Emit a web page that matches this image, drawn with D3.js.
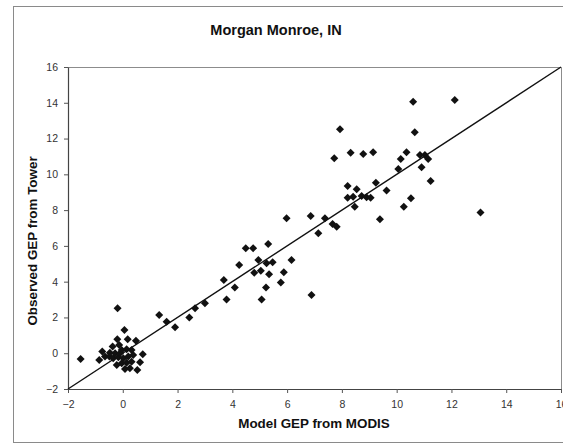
<!DOCTYPE html>
<html>
<head>
<meta charset="utf-8">
<script src="https://cdn.jsdelivr.net/npm/d3@7/dist/d3.min.js"></script>
<style>
  html, body { margin: 0; padding: 0; background: #fff; }
  svg { display: block; font-family: Arial, "Liberation Sans", sans-serif; }
</style>
</head>
<body>
<svg id="chart" width="563" height="444"></svg>
<script>
// Model GEP from MODIS (x) vs observed GEP from the flux tower (y)
const modelGEP = [
  -1.54, -0.86, -0.75, -0.65, -0.49, -0.47, -0.37, -0.35, -0.28, -0.22, -0.20, -0.19,
  -0.16, -0.13, -0.10, -0.04, -0.04, 0.02, 0.06, 0.08, 0.14, 0.14, 0.18, 0.20, 0.26,
  0.32, 0.32, 0.38, 0.48, 0.53, 0.63, 0.73,
  1.33, 1.60, 1.91, 2.43, 2.64, 3.00, 3.69, 3.79, 4.09, 4.25, 4.49, 4.76, 4.80, 4.95,
  5.04, 5.07, 5.23, 5.25, 5.31, 5.34, 5.47, 5.77, 5.88, 6.16, 6.89,
  5.98, 6.86, 7.14, 7.38, 7.66, 7.81, 7.72, 7.93, 8.21, 8.21, 8.32, 8.41, 8.47, 8.54,
  8.72, 8.78, 8.90, 9.05, 9.14, 9.24, 9.39, 9.63, 10.06, 10.15, 10.26, 10.36, 10.52,
  10.60, 10.66, 10.85, 10.91, 11.03, 11.15, 11.24, 12.12, 13.06
];
const towerGEP = [
  -0.32, -0.38, 0.09, -0.19, -0.19, 0.03, 0.37, -0.28, 0.00, -0.66, 0.78, 2.51,
  -0.23, 0.46, 0.00, 0.18, -0.56, -0.28, 1.30, -0.88, 0.22, -0.53, 0.78, -0.19, -0.84,
  0.18, -0.47, -0.10, 0.70, -0.94, -0.51, -0.06,
  2.14, 1.76, 1.45, 1.99, 2.51, 2.79, 4.09, 3.01, 3.68, 4.93, 5.87, 5.87, 4.50, 5.21,
  4.61, 3.01, 3.68, 5.03, 6.11, 4.41, 5.08, 3.96, 4.52, 5.21, 3.26,
  7.54, 7.67, 6.70, 7.54, 7.22, 7.07, 10.90, 12.52, 9.35, 8.69, 11.21, 8.75, 8.19, 9.16,
  8.79, 11.14, 8.72, 8.69, 11.23, 9.53, 7.49, 9.09, 10.30, 10.86, 8.19, 11.23, 8.66,
  14.06, 12.35, 11.08, 10.39, 11.08, 10.86, 9.63, 14.16, 7.86
];
const axisTicks = [-2, 0, 2, 4, 6, 8, 10, 12, 14, 16];
const axisDomain = [-2, 16];
const oneToOne = [-2, 16];

const titleText = "Morgan Monroe, IN";
const xTitle = "Model GEP from MODIS";
const yTitle = "Observed GEP from Tower";

const svg = d3.select("#chart");
const W = 563, H = 444;
const plot = { left: 68, right: 561, top: 67, bottom: 389 };

// outer chart frame
svg.append("rect")
  .attr("x", 13.5).attr("y", 6.5)
  .attr("width", W + 10).attr("height", 436)
  .attr("fill", "#fff").attr("stroke", "#8a8a8a").attr("stroke-width", 1);

const x = d3.scaleLinear().domain(axisDomain).range([plot.left, plot.right]);
const y = d3.scaleLinear().domain(axisDomain).range([plot.bottom, plot.top]);

// plot-area border (top and right)
svg.append("path")
  .attr("d", `M${plot.left},${plot.top + 0.5}H${plot.right + 0.5}V${plot.bottom}`)
  .attr("fill", "none").attr("stroke", "#8c8c8c").attr("stroke-width", 1);

// axes
const xAxis = d3.axisBottom(x).tickValues(axisTicks).tickSize(4).tickSizeOuter(0).tickPadding(8);
const yAxis = d3.axisLeft(y).tickValues(axisTicks).tickSize(4).tickSizeOuter(0).tickPadding(6);

const gx = svg.append("g").attr("transform", `translate(0,${plot.bottom})`).call(xAxis);
const gy = svg.append("g").attr("transform", `translate(${plot.left},0)`).call(yAxis);

[gx, gy].forEach(g => {
  g.select(".domain").attr("stroke", "#444").attr("stroke-width", 1.2);
  g.selectAll(".tick line").attr("stroke", "#555");
  g.selectAll(".tick text")
    .attr("fill", "#333")
    .style("font-size", "10.5px")
    .style("font-family", "Arial, 'Liberation Sans', sans-serif");
});

// 1:1 line
svg.append("line")
  .attr("x1", x(oneToOne[0])).attr("y1", y(oneToOne[0]))
  .attr("x2", x(oneToOne[1])).attr("y2", y(oneToOne[1]))
  .attr("stroke", "#111").attr("stroke-width", 1.4);

// diamond markers
const points = modelGEP.map((v, i) => [v, towerGEP[i]]);
const r = 4;
svg.append("g").selectAll("path")
  .data(points)
  .join("path")
  .attr("d", d => {
    const cx = x(d[0]), cy = y(d[1]);
    return `M${cx},${cy - r}L${cx + r},${cy}L${cx},${cy + r}L${cx - r},${cy}Z`;
  })
  .attr("fill", "#111");

// titles
svg.append("text")
  .attr("x", 276).attr("y", 35)
  .attr("text-anchor", "middle")
  .style("font-size", "14.5px").style("font-weight", "bold")
  .attr("fill", "#111")
  .text(titleText);

svg.append("text")
  .attr("x", 314).attr("y", 428)
  .attr("text-anchor", "middle")
  .style("font-size", "13.4px").style("font-weight", "bold")
  .attr("fill", "#111")
  .text(xTitle);

svg.append("text")
  .attr("transform", `translate(37,241) rotate(-90)`)
  .attr("text-anchor", "middle")
  .style("font-size", "13.4px").style("font-weight", "bold")
  .attr("fill", "#111")
  .text(yTitle);
</script>
</body>
</html>
